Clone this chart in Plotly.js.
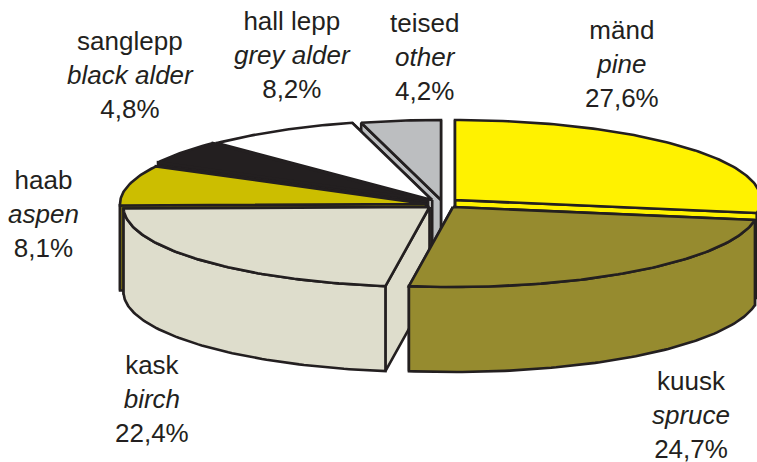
<!DOCTYPE html>
<html>
<head>
<meta charset="utf-8">
<script src="https://cdn.plot.ly/plotly-3.0.1.min.js"></script>
<style>html,body{margin:0;padding:0;background:#fff}#chart{width:757px;height:462px}</style>
</head>
<body>
<div id="chart"></div>
<script>
// Data (clockwise from the top of the pie)
var species = ["mänd", "kuusk", "kask", "haab", "sanglepp", "hall lepp", "teised"];
var latin = ["pine", "spruce", "birch", "aspen", "black alder", "grey alder", "other"];
var shares = [27.6, 24.7, 22.4, 8.1, 4.8, 8.2, 4.2];
var shareLabels = ["27,6%", "24,7%", "22,4%", "8,1%", "4,8%", "8,2%", "4,2%"];

// Styles and layout
var colors = ["#FFF200", "#968B2F", "#DEDDCC", "#CCBE00", "#231F20", "#FFFFFF", "#BCBEC0"];
var outline = "#231F20";
var centerX = [455, 453, 429.5, 426, 428, 432, 441];
var centerY = [200, 207, 207, 204, 200, 200, 200];
var labelX = [622, 691, 152, 43, 130, 292, 424];
var labelY = [64, 415, 399, 214, 75, 55, 57];
var drawOrder = [6, 5, 4, 3, 0, 2, 1];
var RX = 306, RY = 80, DEPTH = 85, LINE = 2.6;

function pt(i, deg, dz) {
  var a = deg * Math.PI / 180;
  return [centerX[i] + RX * Math.sin(a), centerY[i] - RY * Math.cos(a) + (dz || 0)];
}
function poly(points, color) {
  return {
    type: "scatter", mode: "lines", fill: "toself", fillcolor: color,
    x: points.map(function (p) { return p[0]; }),
    y: points.map(function (p) { return p[1]; }),
    line: { color: outline, width: LINE, shape: "linear" },
    hoverinfo: "skip", showlegend: false
  };
}
function arc(i, a, b, dz) {
  var out = [], n = Math.max(2, Math.ceil(Math.abs(b - a)));
  for (var k = 0; k <= n; k++) out.push(pt(i, a + (b - a) * k / n, dz));
  return out;
}
function apex(i, dz) { return [centerX[i], centerY[i] + (dz || 0)]; }

var total = shares.reduce(function (s, v) { return s + v; }, 0);
var starts = [], ends = [], acc = 0;
shares.forEach(function (v) {
  starts.push(acc / total * 360);
  acc += v;
  ends.push(acc / total * 360);
});

var traces = [];
drawOrder.forEach(function (i) {
  var t0 = starts[i], t1 = ends[i], c = colors[i];
  [t1, t0].forEach(function (t) {
    traces.push(poly([apex(i), pt(i, t), pt(i, t, DEPTH), apex(i, DEPTH), apex(i)], c));
  });
  var w0 = Math.max(t0, 90), w1 = Math.min(t1, 270);
  if (w1 > w0) {
    var wall = arc(i, w0, w1, 0).concat(arc(i, w1, w0, DEPTH));
    wall.push(wall[0]);
    traces.push(poly(wall, c));
  }
  var top = [apex(i)].concat(arc(i, t0, t1, 0));
  top.push(apex(i));
  traces.push(poly(top, c));
});

var annotations = species.map(function (s, i) {
  return {
    x: labelX[i], y: labelY[i], xref: "x", yref: "y",
    xanchor: "center", yanchor: "middle", align: "center", showarrow: false,
    text: s + "<br><i>" + latin[i] + "</i><br>" + shareLabels[i],
    font: { family: "Liberation Sans, Arial, sans-serif", size: 26, color: "#231F20" }
  };
});

Plotly.newPlot("chart", traces, {
  width: 757, height: 462,
  margin: { l: 0, r: 0, t: 0, b: 0 },
  paper_bgcolor: "#fff", plot_bgcolor: "#fff",
  xaxis: { range: [0, 757], visible: false, fixedrange: true },
  yaxis: { range: [462, 0], visible: false, fixedrange: true },
  annotations: annotations,
  showlegend: false
}, { displayModeBar: false, staticPlot: true });
</script>
</body>
</html>
